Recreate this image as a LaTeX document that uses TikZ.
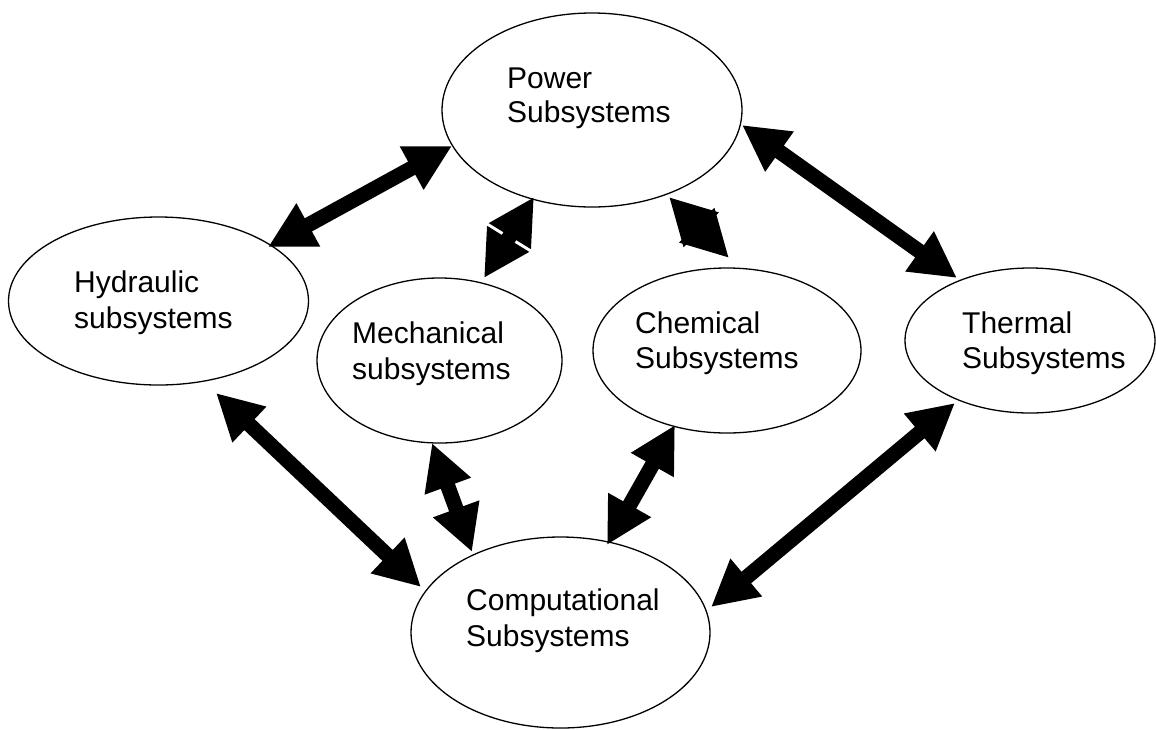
\documentclass[tikz,border=0pt]{standalone}
\usepackage{fontspec}
\setmainfont{Liberation Sans}
\usetikzlibrary{arrows.meta,shapes.geometric}
\begin{document}
\begin{tikzpicture}[x=1pt,y=-1pt,
  sub/.style={draw, ellipse, line width=1.3pt, inner sep=0pt},
  lbl/.style={anchor=base west, inner sep=0pt, font=\fontsize{30}{35}\selectfont},
  link/.style={line width=15pt, {Triangle[length=46pt,width=46pt]}-{Triangle[length=46pt,width=46pt]}}]
\useasboundingbox (0,0) rectangle (1156,729);
% subsystems
\node[sub, minimum width=300pt, minimum height=194pt] (power) at (592,110) {};
\node[sub, minimum width=300pt, minimum height=168pt] (hyd) at (158.5,301) {};
\node[sub, minimum width=245pt, minimum height=165pt] (mech) at (439.5,360.5) {};
\node[sub, minimum width=268pt, minimum height=165pt] (chem) at (727,350.5) {};
\node[sub, minimum width=250pt, minimum height=145pt] (therm) at (1030,340.5) {};
\node[sub, minimum width=299pt, minimum height=191pt] (comp) at (560.5,632.5) {};
% labels
\node[lbl] (powerA) at (507,88) {Power};
\node[lbl] (powerB) at (507,122) {Subsystems};
\node[lbl] (hydA) at (74,292) {Hydraulic};
\node[lbl] (hydB) at (74,328) {subsystems};
\node[lbl] (mechA) at (352,343) {Mechanical};
\node[lbl] (mechB) at (352,379) {subsystems};
\node[lbl] (chemA) at (635,333) {Chemical};
\node[lbl] (chemB) at (635,368) {Subsystems};
\node[lbl] (thermA) at (962,333) {Thermal};
\node[lbl] (thermB) at (962,368) {Subsystems};
\node[lbl] (compA) at (466,610) {Computational};
\node[lbl] (compB) at (466,646) {Subsystems};
% arrow ends
\coordinate (hp1) at (268,247);  \coordinate (hp2) at (452,146);
\coordinate (pt1) at (742,125);  \coordinate (pt2) at (957,278);
\coordinate (hc1) at (216,393);  \coordinate (hc2) at (421,587);
\coordinate (mc1) at (432,443);  \coordinate (mc2) at (472,552);
\coordinate (cc1) at (675,425);  \coordinate (cc2) at (607,545);
\coordinate (tc1) at (955,403);  \coordinate (tc2) at (711,607);
\coordinate (pm1) at (534,197);  \coordinate (pm2) at (484,278);
\coordinate (pc1) at (669,197);  \coordinate (pc2) at (729,258);
% connectors
\draw[link] (hp1) -- (hp2);
\draw[link] (pt1) -- (pt2);
\draw[link] (hc1) -- (hc2);
\draw[link] (mc1) -- (mc2);
\draw[link] (cc1) -- (cc2);
\draw[link] (tc1) -- (tc2);
\draw[link] (pm1) -- (pm2);
\draw[link] (pc1) -- (pc2);
\end{tikzpicture}
\end{document}
